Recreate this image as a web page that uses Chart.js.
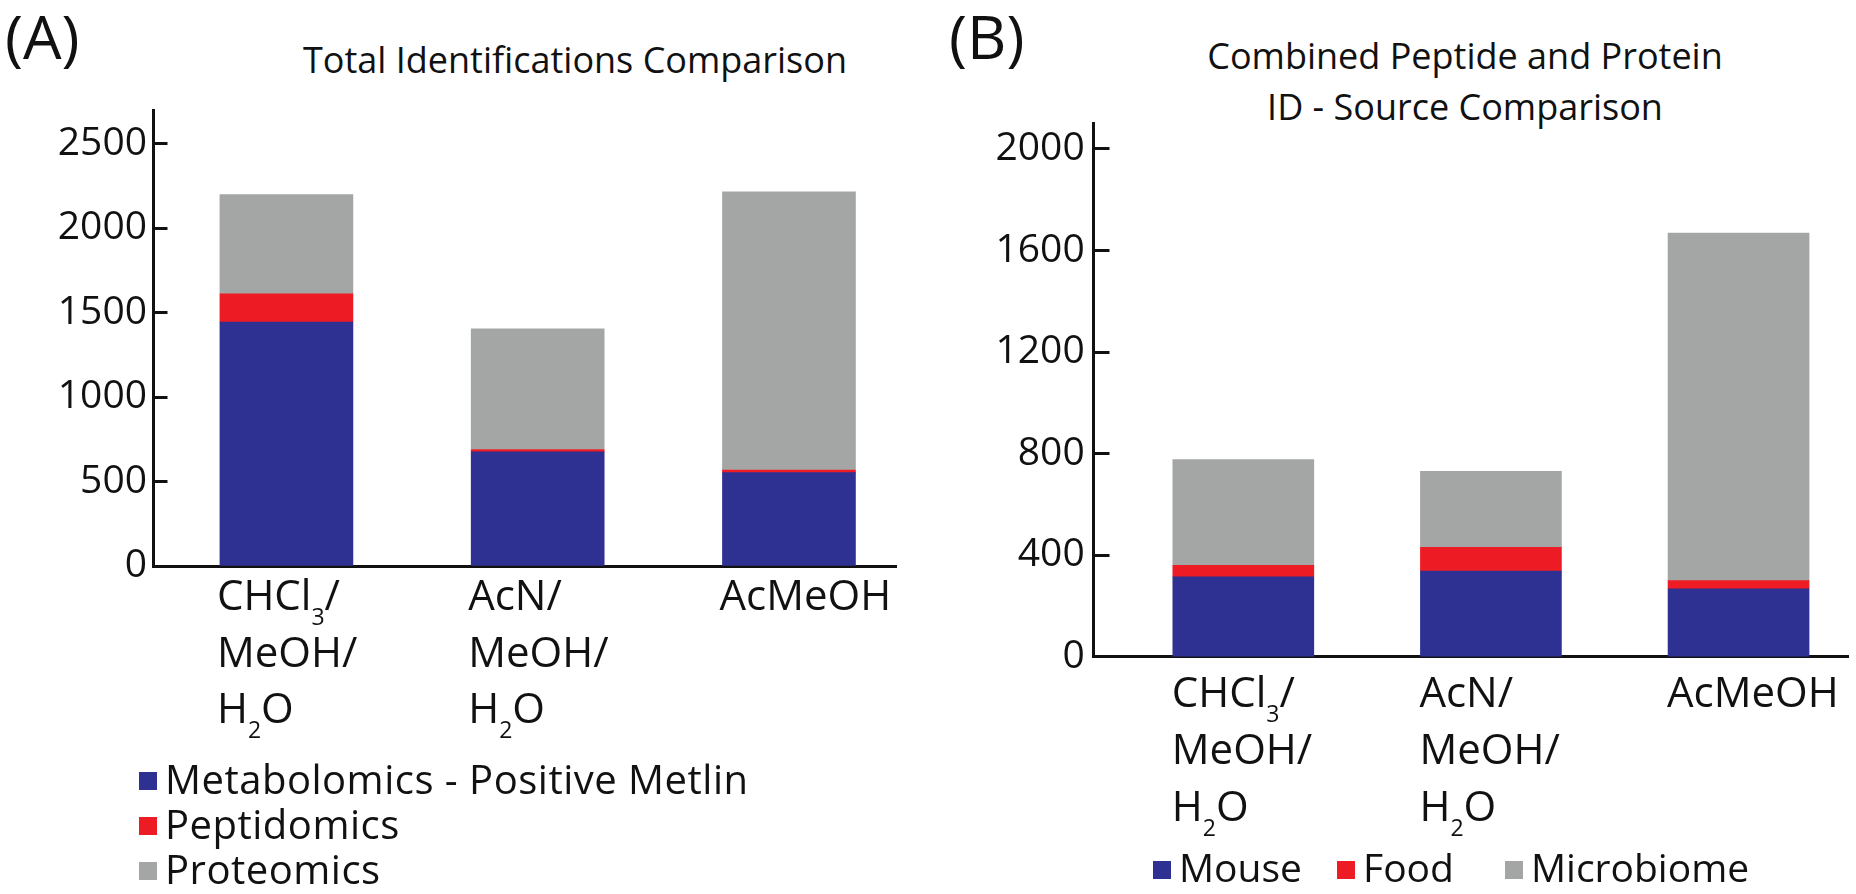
<!DOCTYPE html>
<html>
<head>
<meta charset="utf-8">
<script src="https://cdn.jsdelivr.net/npm/chart.js@4.4.1/dist/chart.umd.min.js"></script>
<style>
  body { margin: 0; width: 1856px; height: 894px; overflow: hidden; background: #fff;
         font-family: 'Open Sans', sans-serif; color: #111; position: relative; }
  canvas { position: absolute; top: 0; }
  #chart-a { left: 0; }
  #chart-b { left: 928px; }
  .tag   { position: absolute; top: 5px; font-size: 61px; line-height: 61px; }
  .title { position: absolute; width: 800px; text-align: center; font-size: 36px; }
  .legend { position: absolute; font-size: 40px; line-height: 45px; white-space: nowrap; }
  .legend .sw { display: inline-block; width: 18px; height: 18px; vertical-align: middle;
                margin-right: 8px; position: relative; top: -2px; }
  #legend-a { letter-spacing: 0.5px; }
  .legend-b span.item { position: absolute; top: 0; }
</style>
</head>
<body>
<div class="tag" style="left:5px">(A)</div>
<div class="tag" style="left:949px">(B)</div>
<div class="title" style="left:175px;top:42px;line-height:36px">Total Identifications Comparison</div>
<div class="title" style="left:1065px;top:30px;line-height:51px">Combined Peptide and Protein<br>ID - Source Comparison</div>

<canvas id="chart-a" width="928" height="894"></canvas>
<canvas id="chart-b" width="928" height="894"></canvas>

<div class="legend" id="legend-a" style="left:139px;top:756px"></div>
<div class="legend legend-b" id="legend-b" style="left:0;top:844px;width:1856px;height:50px;font-size:39px"></div>

<script>
// ── Data ─────────────────────────────────────────────────────────────────────

const solvents = [['CHCl₃/', 'MeOH/', 'H₂O'], ['AcN/', 'MeOH/', 'H₂O'], ['AcMeOH']];

// (A) total identifications
const seriesA  = ['Metabolomics - Positive Metlin', 'Peptidomics', 'Proteomics'];
const metabA   = [1444, 676, 553];
const peptideA = [168, 14, 15];
const proteinA = [587, 714, 1648];
const ticksA   = [0, 500, 1000, 1500, 2000, 2500];

// (B) peptide + protein IDs by source
const seriesB  = ['Mouse', 'Food', 'Microbiome'];
const mouseB   = [315, 338, 268];
const foodB    = [45, 93, 32];
const microbeB = [417, 299, 1369];
const ticksB   = [0, 400, 800, 1200, 1600, 2000];

const colors = ['#2E3192', '#ED1C24', '#A4A6A5'];
const FONT   = '"Open Sans", sans-serif';

// ── Helpers ──────────────────────────────────────────────────────────────────

const SUB = '₀₁₂₃₄₅₆₇₈₉';

// draw text where unicode subscript digits become small lowered digits
function drawRich(ctx, text, x, y, size) {
  const runs = [];
  for (const ch of text) {
    const sub = SUB.indexOf(ch) >= 0;
    const c = sub ? String(SUB.indexOf(ch)) : ch;
    if (runs.length && runs[runs.length - 1].sub === sub) runs[runs.length - 1].t += c;
    else runs.push({ sub, t: c });
  }
  runs.forEach(r => {
    const s = r.sub ? Math.round(size * 0.55) : size;
    ctx.font = `${s}px ${FONT}`;
    ctx.fillText(r.t, x, r.sub ? y + size * 0.36 : y);
    x += ctx.measureText(r.t).width;
  });
}

function xLabelPlugin(lines, lab) {
  return {
    id: 'xLabels',
    afterDraw(chart) {
      const ctx  = chart.ctx;
      const bars = chart.getDatasetMeta(0).data;
      ctx.save();
      ctx.fillStyle = '#111';
      ctx.textAlign = 'left';
      ctx.textBaseline = 'alphabetic';
      lines.forEach((label, i) => {
        const x0 = bars[i].x - bars[i].width / 2 + lab.dx;
        label.forEach((t, j) =>
          drawRich(ctx, t, x0, chart.chartArea.bottom + lab.first + j * lab.step, lab.size));
      });
      ctx.restore();
    }
  };
}

function stackedChart(id, names, series, cfg) {
  return new Chart(document.getElementById(id), {
    type: 'bar',
    data: {
      datasets: series.map((vals, k) => ({
        label: names[k],
        data: vals.map((v, i) => ({ x: i, y: v })),
        backgroundColor: colors[k],
        borderWidth: 0,
        barThickness: cfg.barW
      }))
    },
    options: {
      responsive: false,
      animation: false,
      layout: { padding: { top: cfg.top, right: cfg.right, bottom: 0, left: 0 } },
      plugins: { legend: { display: false }, tooltip: { enabled: false } },
      scales: {
        x: {
          type: 'linear', stacked: true, offset: false, bounds: 'data',
          min: cfg.xMin, max: cfg.xMax,
          grid: { display: false, offset: false },
          ticks: { display: false },
          border: { color: '#111', width: 3 },
          afterFit: s => { s.height = cfg.xH; }
        },
        y: {
          stacked: true, min: 0, max: cfg.yMax,
          afterBuildTicks: s => { s.ticks = cfg.ticks.map(v => ({ value: v })); },
          // negative tick length -> tick marks point into the plot
          grid: { drawOnChartArea: false, tickLength: -cfg.tickLen, tickWidth: 3, tickColor: '#111' },
          border: { color: '#111', width: 3 },
          ticks: { color: '#111', font: { family: FONT, size: 39 }, padding: cfg.tickPad,
                   callback: v => String(v) },
          afterFit: s => { s.width = cfg.yW; }
        }
      }
    },
    plugins: [xLabelPlugin(solvents, cfg.lab)]
  });
}

// ── Charts ───────────────────────────────────────────────────────────────────

stackedChart('chart-a', seriesA, [metabA, peptideA, proteinA], {
  top: 110, right: 32, yW: 153.5, xH: 328,
  xMin: -0.529, xMax: 2.426, yMax: 2700, ticks: ticksA,
  barW: 133, tickLen: 14, tickPad: 20.5,
  lab: { first: 44, step: 56.5, size: 42, dx: -3 }
});

stackedChart('chart-b', seriesB, [mouseB, foodB, microbeB], {
  top: 123.6, right: 8, yW: 165.5, xH: 237.2,
  xMin: -0.605, xMax: 2.442, yMax: 2100, ticks: ticksB,
  barW: 141, tickLen: 16, tickPad: 24.8,
  lab: { first: 50, step: 57, size: 42, dx: -1 }
});

// ── Legends ──────────────────────────────────────────────────────────────────

document.getElementById('legend-a').innerHTML = seriesA.map((n, k) =>
  `<div><span class="sw" style="background:${colors[k]}"></span>${n}</div>`).join('');

const legendBX = [1153, 1337, 1505];
document.getElementById('legend-b').innerHTML = seriesB.map((n, k) =>
  `<span class="item" style="left:${legendBX[k]}px"><span class="sw" style="background:${colors[k]}"></span>${n}</span>`).join('');
</script>
</body>
</html>
